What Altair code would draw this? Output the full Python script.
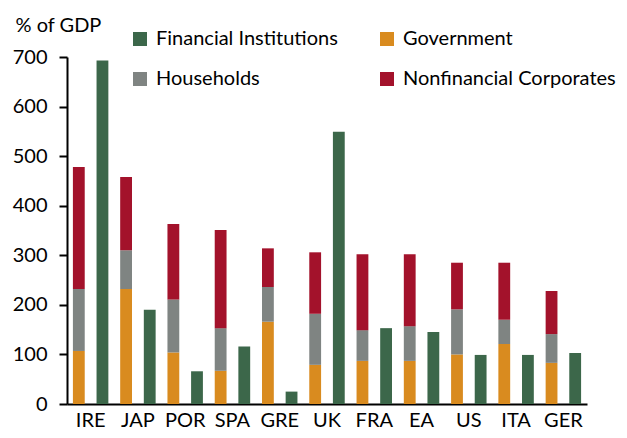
import altair as alt
import pandas as pd

countries = ["IRE", "JAP", "POR", "SPA", "GRE", "UK", "FRA", "EA", "US", "ITA", "GER"]
government = [107, 232, 104, 67, 166, 79, 87, 87, 100, 121, 83]
households = [125, 78, 107, 86, 70, 103, 62, 70, 91, 49, 58]
nonfin_corp = [246, 148, 152, 198, 78, 124, 153, 145, 94, 115, 87]
financial = [693, 190, 66, 116, 25, 549, 153, 145, 99, 99, 103]

# legend fills column by column: FI, HH in column 1; Gov, NFC in column 2
sectors = ["Financial Institutions", "Households", "Government", "Nonfinancial Corporates"]
colors = ["#3C674A", "#7F8482", "#D98B1F", "#A3122B"]

rows = []
for i, c in enumerate(countries):
    rows.append({"country": c, "sector": "Government", "value": government[i], "bar": "S", "ord": 0})
    rows.append({"country": c, "sector": "Households", "value": households[i], "bar": "S", "ord": 1})
    rows.append({"country": c, "sector": "Nonfinancial Corporates", "value": nonfin_corp[i], "bar": "S", "ord": 2})
    rows.append({"country": c, "sector": "Financial Institutions", "value": financial[i], "bar": "F", "ord": 0})
df = pd.DataFrame(rows)

FONT = "Lato"
FS = 20

chart = alt.Chart(df).mark_bar().encode(
    x=alt.X("country:N", sort=countries,
            scale=alt.Scale(paddingInner=0, paddingOuter=0),
            axis=alt.Axis(title=None, labelAngle=0, ticks=False, labelPadding=6,
                          domainColor="black", domainWidth=2, labelFontSize=FS,
                          labelFont=FONT, labelColor="black")),
    xOffset=alt.XOffset("bar:N", sort=["S", "F"],
                        scale=alt.Scale(paddingInner=0.5, paddingOuter=0.25)),
    y=alt.Y("value:Q", stack="zero",
            scale=alt.Scale(domain=[0, 700], nice=False),
            axis=alt.Axis(values=[0, 100, 200, 300, 400, 500, 600, 700], grid=False,
                          tickSize=8, tickColor="black", tickWidth=2,
                          domainColor="black", domainWidth=2,
                          labelFontSize=FS, labelFont=FONT, labelColor="black", labelPadding=12,
                          title="% of GDP", titleAngle=0, titleAlign="left",
                          titleBaseline="alphabetic", titleX=-52, titleY=-26,
                          titleFont=FONT, titleFontSize=FS, titleFontWeight="normal",
                          titleColor="black")),
    color=alt.Color("sector:N", scale=alt.Scale(domain=sectors, range=colors),
                    legend=alt.Legend(title=None, orient="none", legendX=63, legendY=-28,
                                      columns=2, columnPadding=39, rowPadding=20,
                                      symbolType="square", symbolSize=196,
                                      symbolStrokeWidth=0, labelOffset=6,
                                      labelFont=FONT, labelFontSize=FS,
                                      labelColor="black", labelLimit=400)),
    order=alt.Order("ord:Q", sort="ascending"),
).properties(
    width=520, height=347,
    autosize=alt.AutoSizeParams(type="none"),
    padding={"left": 59, "top": 49, "right": 32, "bottom": 26},
).configure_view(stroke=None)

chart.save("out.html", embed_options={"renderer": "svg", "actions": False})
